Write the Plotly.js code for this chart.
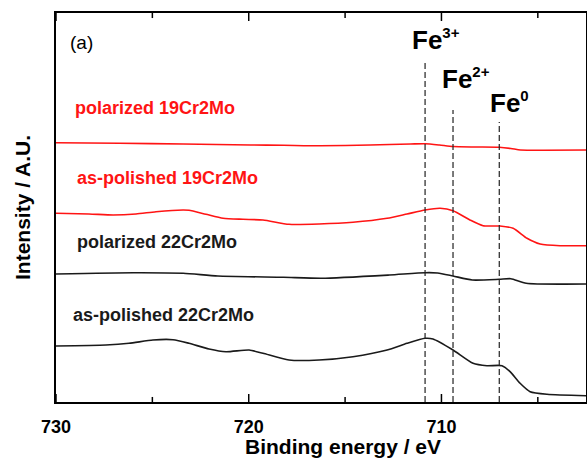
<!DOCTYPE html>
<html>
<head>
<meta charset="utf-8">
<script src="https://cdn.plot.ly/plotly-3.0.1.min.js"></script>
<style>
  html, body { margin: 0; padding: 0; background: #fff; }
  #chart { width: 587px; height: 464px; }
</style>
</head>
<body>
<div id="chart"></div>
<script>
// Fe 2p3/2 XPS spectra (binding energy in eV, intensity in arbitrary units, stacked)
const energyPol19 = [730, 726.7, 723.4, 719.9, 718.2, 716.3, 713.7, 711.6, 710.85, 710.1, 709.4, 708.3, 707.0, 706.4, 705.9, 704.7, 702.5];
const intensityPol19 = [259.3, 258.7, 258.0, 257.0, 256.7, 256.2, 257.0, 258.0, 258.3, 257.0, 255.5, 255.0, 254.7, 253.5, 252.0, 251.7, 252.0];

const energyAsp19 = [730, 728.29, 727.04, 725.85, 724.81, 723.41, 723.10, 722.22, 721.33, 720.30, 719.26, 717.91, 716.35, 714.59, 712.82, 711.79, 710.85, 710.07, 709.40, 708.52, 707.84, 706.96, 706.28, 705.56, 704.88, 703.85, 702.5];
const intensityAsp19 = [188.7, 188.0, 187.0, 188.0, 190.3, 192.0, 191.7, 187.7, 183.7, 182.7, 182.0, 177.7, 178.0, 179.7, 183.7, 188.0, 192.0, 193.7, 191.3, 182.0, 176.3, 176.0, 173.7, 163.7, 158.0, 156.3, 156.3];

const energyPol22 = [730, 726, 723.4, 721.6, 718.2, 716.2, 712.7, 710.85, 710.2, 709.4, 708.4, 707.0, 706.4, 705.6, 702.5];
const intensityPol22 = [128.0, 129.3, 128.7, 126.0, 124.7, 123.7, 127.0, 129.3, 129.0, 126.0, 122.0, 122.7, 123.3, 118.7, 118.0];

const energyAsp22 = [730, 727.41, 726.21, 724.97, 723.93, 723.10, 722.06, 721.18, 719.98, 719.26, 717.91, 716.35, 714.59, 712.82, 711.79, 710.85, 710.44, 709.40, 708.36, 707.64, 706.86, 706.44, 705.92, 705.40, 704.52, 702.5];
const intensityAsp22 = [56.0, 57.0, 58.7, 62.0, 62.3, 58.7, 53.0, 50.3, 52.0, 48.7, 42.0, 42.0, 45.3, 52.0, 58.7, 63.7, 63.0, 52.0, 38.7, 36.3, 36.3, 30.3, 18.7, 10.3, 7.7, 6.3];

// Reference binding energies for the iron species and the height of each marker line
const speciesNames = ["Fe", "Fe", "Fe"];
const speciesCharge = ["3+", "2+", "0"];
const speciesEnergy = [710.85, 709.4, 707.0];
const speciesLineTop = [339, 292, 280];

const xTickVals = [730, 720, 710];
const xTickText = ["730", "720", "710"];
const xMinorTickVals = [725, 715, 705];

const seriesLabels = ["polarized 19Cr2Mo", "as-polished 19Cr2Mo", "polarized 22Cr2Mo", "as-polished 22Cr2Mo"];

const RED = "#ff1414";
const BLACK = "#1a1a1a";
const FONT = "Arial, 'Liberation Sans', Helvetica, sans-serif";
const Y_RANGE = [0, 389];

function spectrum(x, y, color) {
  return {
    x: x, y: y, type: "scatter", mode: "lines",
    line: { color: color, width: 1.6, shape: "spline", smoothing: 0.6 },
    hoverinfo: "skip", showlegend: false
  };
}

const traces = [
  spectrum(energyPol19, intensityPol19, RED),
  spectrum(energyAsp19, intensityAsp19, RED),
  spectrum(energyPol22, intensityPol22, BLACK),
  spectrum(energyAsp22, intensityAsp22, BLACK)
];

speciesEnergy.forEach((e, i) => {
  traces.push({
    x: [e, e], y: [0, speciesLineTop[i]], type: "scatter", mode: "lines",
    line: { color: "#222", width: 1.2, dash: "6px,3px" },
    hoverinfo: "skip", showlegend: false
  });
});

// inward tick marks on the bottom and top frame: vertical line markers centred
// on the frame edge, clipped by the plot area so only the inner half shows
function tickMarks(vals, size) {
  const xs = [], ys = [];
  vals.forEach(v => { xs.push(v, v); ys.push(Y_RANGE[0], Y_RANGE[1]); });
  return {
    x: xs, y: ys, type: "scatter", mode: "markers", cliponaxis: true,
    marker: { symbol: "line-ns-open", size: size, color: "#000", line: { color: "#000", width: 1.5 } },
    hoverinfo: "skip", showlegend: false
  };
}
traces.push(tickMarks(xTickVals, 11.4));
traces.push(tickMarks(xMinorTickVals, 7.2));

const annotations = [];

// species labels above the dashed markers (left edge of "Fe", bottom of box)
const speciesLabelX = [711.54, 709.98, 707.48];
const speciesLabelY = [345, 306, 282];
speciesNames.forEach((t, i) => {
  annotations.push({
    x: speciesLabelX[i], y: speciesLabelY[i], xref: "x", yref: "y",
    text: t + "<sup><span style=\"font-size:15px\">" + speciesCharge[i] + "</span></sup>",
    showarrow: false, xanchor: "left", yanchor: "bottom", xshift: -2,
    font: { family: FONT, size: 26, color: "#000", weight: "bold" }
  });
});

// curve labels
const labelY = [294, 224, 160, 87];
const labelColor = [RED, RED, BLACK, BLACK];
const labelX = [729.1, 729.0, 729.0, 729.2];
seriesLabels.forEach((t, i) => {
  annotations.push({
    x: labelX[i], y: labelY[i], xref: "x", yref: "y",
    text: t, showarrow: false, xanchor: "left", yanchor: "middle",
    font: { family: FONT, size: 18, color: labelColor[i], weight: "bold" }
  });
});

// panel tag
annotations.push({
  x: 729.4, y: 360, xref: "x", yref: "y", text: "(a)", showarrow: false,
  xanchor: "left", yanchor: "middle",
  font: { family: FONT, size: 19, color: "#000" }
});

const W = 587, H = 464, ML = 56, MR = 1, MT = 13, MB = 62;
const pw = W - ML - MR, ph = H - MT - MB;

// axis titles, placed in paper coordinates
annotations.push({
  xref: "paper", yref: "paper", x: (343 - ML) / pw, y: (H - MB - 447) / ph,
  xanchor: "center", yanchor: "middle", showarrow: false,
  text: "Binding energy / eV",
  font: { family: FONT, size: 21, color: "#000", weight: "bold" }
});
annotations.push({
  xref: "paper", yref: "paper", x: (23 - ML) / pw, y: (H - MB - 208) / ph,
  xanchor: "center", yanchor: "middle", showarrow: false, textangle: -90,
  text: "Intensity / A.U.",
  font: { family: FONT, size: 21, color: "#000", weight: "bold" }
});

const layout = {
  width: W, height: H,
  margin: { l: ML, r: MR, t: MT, b: MB, pad: 0 },
  paper_bgcolor: "#fff", plot_bgcolor: "#fff",
  showlegend: false,
  xaxis: {
    range: [730, 702.5], autorange: false,
    tickmode: "array", tickvals: xTickVals, ticktext: xTickText,
    ticks: "", ticklabelstandoff: 7,
    showline: true, linewidth: 2, linecolor: "#000", mirror: true,
    showgrid: false, zeroline: false,
    tickfont: { family: FONT, size: 18, color: "#000", weight: "bold" }
  },
  yaxis: {
    range: Y_RANGE, autorange: false,
    showticklabels: false, ticks: "",
    showline: true, linewidth: 2, linecolor: "#000", mirror: true,
    showgrid: false, zeroline: false
  },
  annotations: annotations
};

Plotly.newPlot("chart", traces, layout, { staticPlot: true, displayModeBar: false });
</script>
</body>
</html>
